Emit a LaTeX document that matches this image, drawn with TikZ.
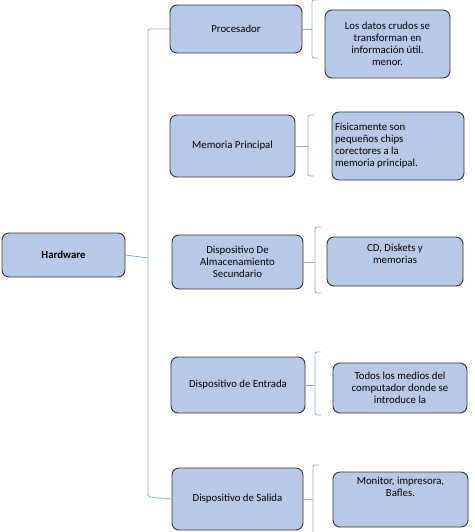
\documentclass[tikz,border=0pt]{standalone}
\usepackage{fontspec}
\setmainfont{Carlito}
\usepackage{tikz}
\usetikzlibrary{positioning}
\definecolor{boxblue}{RGB}{184,201,232}
\definecolor{lineblue}{RGB}{140,176,214}
\tikzstyle{box} = [draw=black!80, line width=0.9pt, fill=boxblue, rounded corners=7pt, align=center, inner sep=3pt, font=\fontsize{10.8}{12}\selectfont]
\tikzstyle{brack} = [draw=lineblue, line width=0.8pt, rounded corners=2pt]

\begin{document}
\begin{tikzpicture}[x=1pt, y=-1pt]
    \useasboundingbox (0,0) rectangle (474,532);
    \node[box, minimum width=123pt, minimum height=44pt, font=\fontsize{10.8}{12}\selectfont\bfseries] (hw) at (63.5,255) {Hardware};

    \node[box, minimum width=132pt, minimum height=48pt] (proc) at (236,29) {Procesador};
    \node[box, minimum width=125pt, minimum height=62pt] (mem)  at (232.5,146) {Memoria Principal};
    \node[box, minimum width=131pt, minimum height=54pt] (alm)  at (237.5,262) {Dispositivo De\\ Almacenamiento\\ Secundario};
    \node[box, minimum width=134pt, minimum height=56pt] (ent)  at (238,385) {Dispositivo de Entrada};
    \node[box, minimum width=131pt, minimum height=62pt] (sal)  at (237.5,499) {Dispositivo de Salida};

    \node[box, minimum width=125pt, minimum height=68pt] (datos) at (387.5,44) {Los datos crudos se\\ transforman en\\ información útil.\\ menor.};
    \node[box, minimum height=68pt, text width=126pt, align=flush left] (fis) at (398,146) {Físicamente son\\ pequeños chips\\ corectores a la\\ memoria principal.};
    \node[box] (cd) at (395,261.5) {\parbox[c][43pt][t]{130pt}{\centering\vspace{4pt}CD, Diskets y\\ memorias}};
    \node[box, minimum width=134pt, minimum height=50pt] (todos) at (400,388) {Todos los medios del\\ computador donde se\\ introduce la};
    \node[box] (mon) at (400.5,499.5) {\parbox[c][49pt][t]{129pt}{\centering\vspace{2pt}Monitor, impresora,\\ Bafles.}};

    \draw[brack] (proc.west) -- (148,29) -- (148,497) -- (sal.west);
    \draw[brack] (hw.east) -- (148,258);

    \draw[brack] (proc.east) -- (312,29);
    \draw[brack] (318,0) -- (312,0) -- (312,58) -- (318,58);
    \draw[brack] (mem.east) -- (308,146);
    \draw[brack] (314,115) -- (308,115) -- (308,176) -- (314,176);
    \draw[brack] (alm.east) -- (315,262);
    \draw[brack] (321,227) -- (315,227) -- (315,293) -- (321,293);
    \draw[brack] (ent.east) -- (315,385);
    \draw[brack] (321,352) -- (315,352) -- (315,415) -- (321,415);
    \draw[brack] (sal.east) -- (313,499);
    \draw[brack] (319,465) -- (313,465) -- (313,532);
\end{tikzpicture}
\end{document}
